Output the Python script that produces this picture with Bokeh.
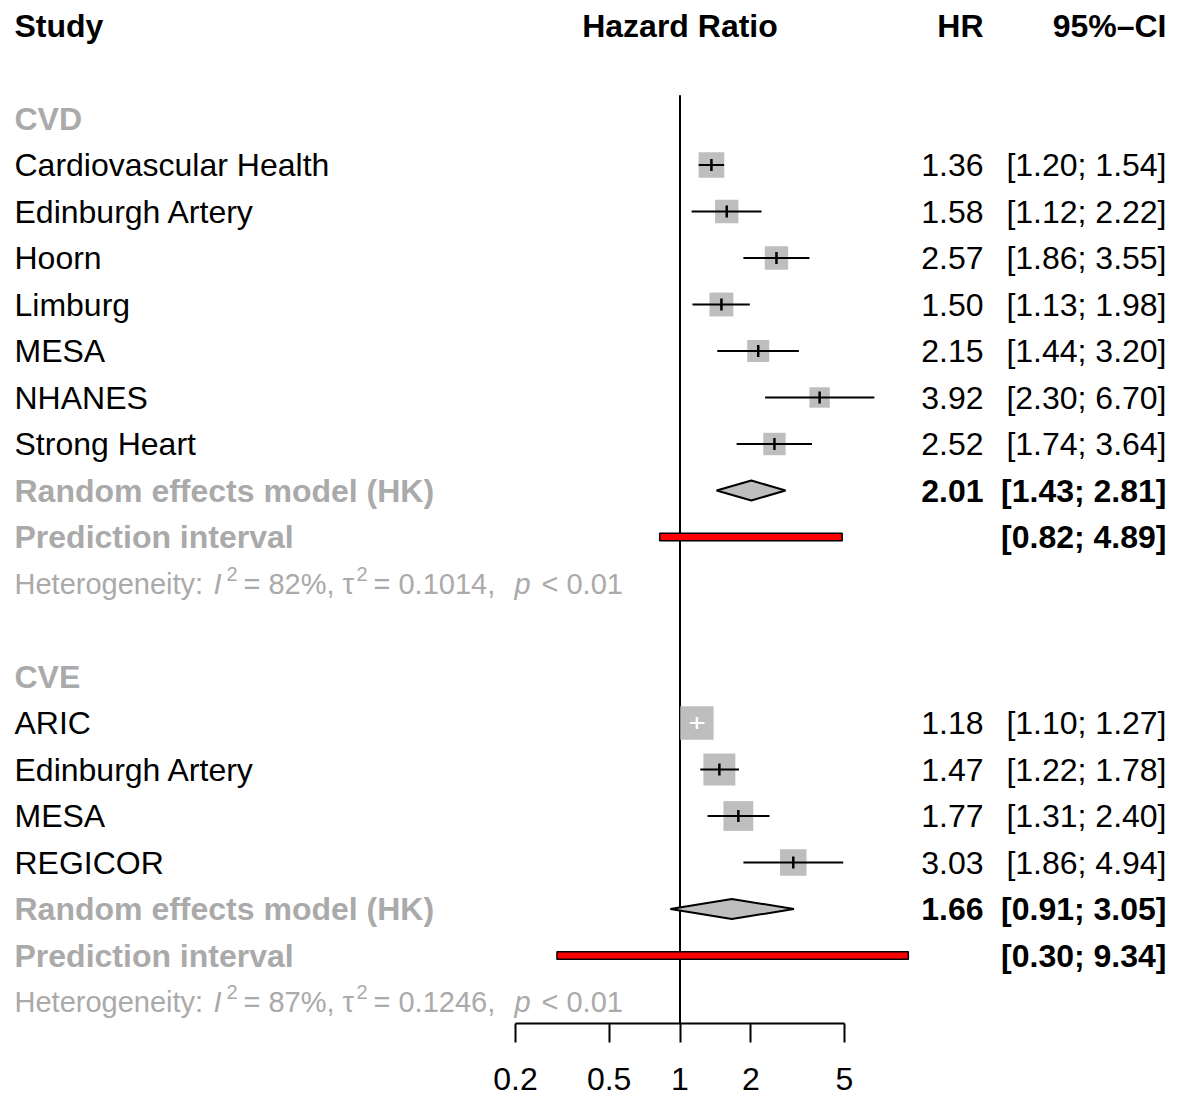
import numpy as np
from bokeh.plotting import figure
from bokeh.models import (ColumnDataSource, LabelSet, Label, Range1d, FixedTicker,
                          CustomJSTickFormatter)
from bokeh.core.properties import value
from bokeh.embed import file_html
from bokeh.resources import INLINE

# ---------------- data ----------------
cvd_studies = ["Cardiovascular Health", "Edinburgh Artery", "Hoorn", "Limburg",
               "MESA", "NHANES", "Strong Heart"]
cvd_hr = [1.36, 1.58, 2.57, 1.50, 2.15, 3.92, 2.52]
cvd_lo = [1.20, 1.12, 1.86, 1.13, 1.44, 2.30, 1.74]
cvd_hi = [1.54, 2.22, 3.55, 1.98, 3.20, 6.70, 3.64]
cvd_weight = [17.7, 14.6, 14.7, 15.4, 13.0, 11.2, 13.5]
cvd_random = [2.01, 1.43, 2.81]
cvd_pred = [0.82, 4.89]
cvd_het = [82, 0.1014, "0.01"]

cve_studies = ["ARIC", "Edinburgh Artery", "MESA", "REGICOR"]
cve_hr = [1.18, 1.47, 1.77, 3.03]
cve_lo = [1.10, 1.22, 1.31, 1.86]
cve_hi = [1.27, 1.78, 2.40, 4.94]
cve_weight = [29.8, 27.4, 23.9, 18.9]
cve_random = [1.66, 0.91, 3.05]
cve_pred = [0.30, 9.34]
cve_het = [87, 0.1246, "0.01"]

group_names = ["CVD", "CVE"]
axis_ticks = [0.2, 0.5, 1, 2, 5]
header_labels = ["Study", "Hazard Ratio", "HR", "95%–CI"]

# ---------------- layout constants ----------------
FONT = "Liberation Sans"
GREY = "#AAAAAA"
BOX = "#BEBEBE"
FS = "32px"
FS_HET = "29px"
FS_SUP = "20px"
ROW_PX = 46.5
WIDTH, HEIGHT = 1181, 1098
BOTTOM_BORDER = 75
FRAME_H = HEIGHT - BOTTOM_BORDER
TOP_PX = 25.0
PX_PER_DECADE = 235.3
X1_PX = 679.5
BOX_K = 6.1
LEFT_X = 14
HR_X = 983
CI_X = 1166

x_lo = 10 ** (-X1_PX / PX_PER_DECADE)
x_hi = 10 ** ((WIDTH - X1_PX) / PX_PER_DECADE)
y_top = -TOP_PX / ROW_PX
y_bot = (FRAME_H - TOP_PX) / ROW_PX

p = figure(width=WIDTH, height=HEIGHT, x_axis_type="log",
           x_range=Range1d(x_lo, x_hi), y_range=Range1d(y_bot, y_top),
           output_backend="svg", toolbar_location=None,
           min_border_left=0, min_border_right=0, min_border_top=0,
           min_border_bottom=BOTTOM_BORDER,
           y_axis_location=None, x_axis_location="below",
           outline_line_color=None, background_fill_color="white",
           border_fill_color="white")
p.grid.visible = False

# ---------------- build rows ----------------
groups = [
    dict(name=group_names[0], studies=cvd_studies, hr=cvd_hr, lo=cvd_lo, hi=cvd_hi,
         w=cvd_weight, re=cvd_random, pi=cvd_pred, het=cvd_het),
    dict(name=group_names[1], studies=cve_studies, hr=cve_hr, lo=cve_lo, hi=cve_hi,
         w=cve_weight, re=cve_random, pi=cve_pred, het=cve_het),
]

study = dict(name=[], y=[], hr=[], lo=[], hi=[], size=[], hrtxt=[], citxt=[], lc=[])
grey_bold = dict(text=[], y=[])
bold_hr = dict(text=[], y=[])
bold_ci = dict(text=[], y=[])
diamonds = dict(xs=[], ys=[])
preds = dict(lo=[], hi=[], y=[])
het_rows = []

row = 2
for g in groups:
    grey_bold["text"].append(g["name"]); grey_bold["y"].append(row)
    for i, s in enumerate(g["studies"]):
        r = row + 1 + i
        size = BOX_K * np.sqrt(g["w"][i])
        ci_px = (np.log10(g["hi"][i]) - np.log10(g["lo"][i])) * PX_PER_DECADE
        study["name"].append(s); study["y"].append(r)
        study["hr"].append(g["hr"][i]); study["lo"].append(g["lo"][i]); study["hi"].append(g["hi"][i])
        study["size"].append(size)
        study["hrtxt"].append(f"{g['hr'][i]:.2f}")
        study["citxt"].append(f"[{g['lo'][i]:.2f}; {g['hi'][i]:.2f}]")
        study["lc"].append("white" if ci_px < 0.8 * size else "black")
    r_re = row + 1 + len(g["studies"])
    est, lo, hi = g["re"]
    h = 10 / ROW_PX
    diamonds["xs"].append([lo, est, hi, est])
    diamonds["ys"].append([r_re, r_re - h, r_re, r_re + h])
    grey_bold["text"].append("Random effects model (HK)"); grey_bold["y"].append(r_re)
    bold_hr["text"].append(f"{est:.2f}"); bold_hr["y"].append(r_re)
    bold_ci["text"].append(f"[{lo:.2f}; {hi:.2f}]"); bold_ci["y"].append(r_re)
    r_pi = r_re + 1
    preds["lo"].append(g["pi"][0]); preds["hi"].append(g["pi"][1]); preds["y"].append(r_pi)
    grey_bold["text"].append("Prediction interval"); grey_bold["y"].append(r_pi)
    bold_ci["text"].append(f"[{g['pi'][0]:.2f}; {g['pi'][1]:.2f}]"); bold_ci["y"].append(r_pi)
    r_het = r_pi + 1
    het_rows.append((r_het, g["het"]))
    row = r_het + 2

# ---------------- glyphs ----------------
# reference line at HR = 1
p.segment(x0=[1], x1=[1], y0=[1.5], y1=[y_bot], line_color="black", line_width=2)

src = ColumnDataSource(study)
p.scatter(x="hr", y="y", size="size", marker="square", source=src,
          fill_color=BOX, line_color=None)
p.segment(x0="lo", x1="hi", y0="y", y1="y", line_color="lc", line_width=2, source=src)
p.scatter(x="hr", y="y", size=12, marker="dash", angle=np.pi / 2, source=src,
          line_color="lc", line_width=2.5)

p.patches(xs="xs", ys="ys", source=ColumnDataSource(diamonds), fill_color=BOX,
          line_color="black", line_width=2)

ph = 3.8 / ROW_PX
psrc = ColumnDataSource(dict(left=preds["lo"], right=preds["hi"],
                             top=[y - ph for y in preds["y"]],
                             bottom=[y + ph for y in preds["y"]]))
p.quad(left="left", right="right", top="top", bottom="bottom", source=psrc,
       fill_color="red", line_color="black", line_width=1.5)

# ---------------- texts ----------------
def lset(source, text, xpos, color, style, align="left", size=FS):
    return LabelSet(x=xpos, y="y", text=text, x_units="screen", y_units="data",
                    source=source, text_font=value(FONT), text_font_size=size,
                    text_color=color, text_font_style=style, text_align=align,
                    text_baseline="middle")

src_x = ColumnDataSource(dict(y=study["y"], name=study["name"], hrtxt=study["hrtxt"],
                              citxt=study["citxt"]))
p.add_layout(lset(src_x, "name", LEFT_X, "black", "normal"))
p.add_layout(lset(src_x, "hrtxt", HR_X, "black", "normal", "right"))
p.add_layout(lset(src_x, "citxt", CI_X, "black", "normal", "right"))
p.add_layout(lset(ColumnDataSource(grey_bold), "text", LEFT_X, GREY, "bold"))
p.add_layout(lset(ColumnDataSource(bold_hr), "text", HR_X, "black", "bold", "right"))
p.add_layout(lset(ColumnDataSource(bold_ci), "text", CI_X, "black", "bold", "right"))

# header row
for txt, x, units, align in [(header_labels[0], LEFT_X, "screen", "left"),
                             (header_labels[1], 1, "data", "center"),
                             (header_labels[2], HR_X, "screen", "right"),
                             (header_labels[3], CI_X, "screen", "right")]:
    p.add_layout(Label(x=x, y=0, x_units=units, y_units="data", text=txt,
                       text_font=FONT, text_font_size=FS, text_font_style="bold",
                       text_color="black", text_align=align, text_baseline="middle"))

# heterogeneity lines
sup_dy = 10 / ROW_PX
for r, (i2, tau2, pv) in het_rows:
    pieces = [("Heterogeneity:", 14, "normal", FS_HET, 0),
              ("I", 213, "italic", FS_HET, 0),
              ("2", 226, "normal", FS_SUP, sup_dy),
              (f"= {i2}%,", 243, "normal", FS_HET, 0),
              ("τ", 342, "normal", FS_HET, 0),
              ("2", 356, "normal", FS_SUP, sup_dy),
              (f"= {tau2:.4f},", 373, "normal", FS_HET, 0),
              ("p", 514, "italic", FS_HET, 0),
              (f"< {pv}", 541, "normal", FS_HET, 0)]
    for txt, x, style, fs, dy in pieces:
        p.add_layout(Label(x=x, y=r - dy, x_units="screen", y_units="data", text=txt,
                           text_font=FONT, text_font_size=fs, text_font_style=style,
                           text_color=GREY, text_align="left", text_baseline="middle"))

# ---------------- axis ----------------
ax = p.xaxis[0]
ax.ticker = FixedTicker(ticks=axis_ticks, minor_ticks=[])
ax.formatter = CustomJSTickFormatter(code="return String(tick);")
ax.bounds = (min(axis_ticks), max(axis_ticks))
ax.axis_line_width = 2
ax.axis_line_color = "black"
ax.major_tick_line_width = 2
ax.major_tick_line_color = "black"
ax.major_tick_out = 19
ax.major_tick_in = 0
ax.minor_tick_out = 0
ax.minor_tick_in = 0
ax.major_label_standoff = 25
ax.major_label_text_font = FONT
ax.major_label_text_font_size = FS
ax.major_label_text_color = "black"

open("out.html", "w").write(file_html(p, INLINE))
